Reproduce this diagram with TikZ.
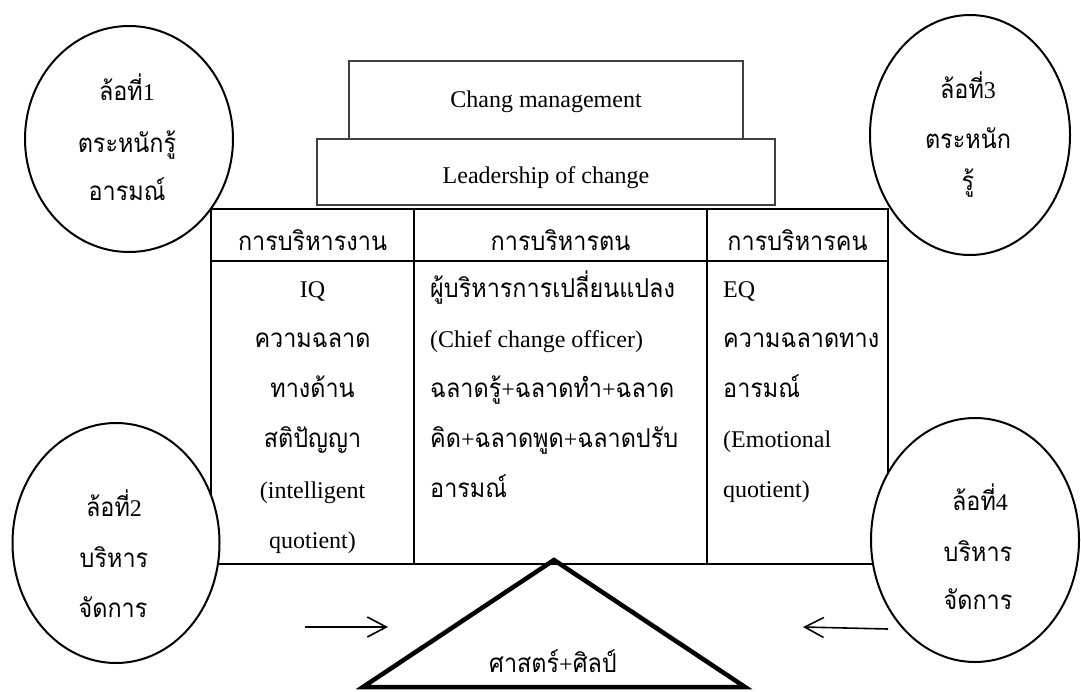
\documentclass[tikz,border=0pt]{standalone}
\usepackage{fontspec}
\setmainfont{Liberation Serif}
\newfontfamily\thaifont[Script=Thai,FakeStretch=0.9]{Loma}
\usetikzlibrary{shapes.geometric,arrows.meta}
\newcommand\thx[1]{{\thaifont\fontsize{26}{30}\selectfont #1}}
\tikzset{
  lat/.style={font=\fontsize{24}{28}\selectfont, inner sep=0pt},
  thtxt/.style={font=\thaifont\fontsize{26}{30}\selectfont, inner sep=0pt},
  wheel/.style={ellipse, draw=black, line width=2pt, fill=white, inner sep=0pt},
  tierbox/.style={rectangle, draw=black!75, line width=1.1pt, inner sep=0pt},
  tbl/.style={rectangle, draw=black, line width=1.6pt, inner sep=0pt},
  tline/.style={draw=black, line width=1.6pt},
  tri/.style={draw=black, line width=4.5pt, line join=miter},
  arr/.style={draw=black, line width=1.6pt, -{Straight Barb[length=19pt,width=20pt,line width=1.6pt]}}
}
\begin{document}
\begin{tikzpicture}[x=1pt,y=-1pt]
\useasboundingbox (0,0) rectangle (1081,691);
% tier boxes
\node[tierbox, minimum width=394pt, minimum height=78pt] (chang) at (546,100) {};
\node[tierbox, minimum width=458pt, minimum height=66pt] (lead) at (546,172) {};
\node[lat, anchor=base] (changtxt) at (546,107) {Chang management};
\node[lat, anchor=base] (leadtxt) at (546,183) {Leadership of change};
% table
\node[tbl, minimum width=677pt, minimum height=355pt] (table) at (549.5,386.5) {};
\draw[tline] (211,261) -- (888,261);
\draw[tline] (414,209) -- (414,564);
\draw[tline] (707,209) -- (707,564);
% headers
\node[thtxt, anchor=base] (h1) at (312.5,250) {การบริหารงาน};
\node[thtxt, anchor=base] (h2) at (560.5,250) {การบริหารตน};
\node[thtxt, anchor=base] (h3) at (797.5,250) {การบริหารคน};
% column 1
\node[lat, anchor=base] (c1a) at (312.5,297) {IQ};
\node[thtxt, anchor=base] (c1b) at (312.5,347) {ความฉลาด};
\node[thtxt, anchor=base] (c1c) at (312.5,397) {ทางด้าน};
\node[thtxt, anchor=base] (c1d) at (312.5,447) {สติปัญญา};
\node[lat, anchor=base] (c1e) at (312.5,498) {(intelligent};
\node[lat, anchor=base] (c1f) at (312.5,548) {quotient)};
% column 2
\node[thtxt, anchor=base west] (c2a) at (430,297) {ผู้บริหารการเปลี่ยนแปลง};
\node[lat, anchor=base west] (c2b) at (430,347) {(Chief change officer)};
\node[lat, anchor=base west] (c2c) at (430,397) {\thx{ฉลาดรู้}+\thx{ฉลาดทำ}+\thx{ฉลาด}};
\node[lat, anchor=base west] (c2d) at (430,447) {\thx{คิด}+\thx{ฉลาดพูด}+\thx{ฉลาดปรับ}};
\node[thtxt, anchor=base west] (c2e) at (430,497) {อารมณ์};
% column 3
\node[lat, anchor=base west] (c3a) at (723,297) {EQ};
\node[thtxt, anchor=base west] (c3b) at (723,347) {ความฉลาดทาง};
\node[thtxt, anchor=base west] (c3c) at (723,397) {อารมณ์};
\node[lat, anchor=base west] (c3d) at (723,447) {(Emotional};
\node[lat, anchor=base west] (c3e) at (723,497) {quotient)};
% triangle
\coordinate (tA) at (554,560);
\coordinate (tL) at (363,687);
\coordinate (tR) at (745,687);
\draw[tri] (tA) -- (tL) -- (tR) -- cycle;
\node[lat, anchor=base] (tritxt) at (553,672) {\thx{ศาสตร์}+\thx{ศิลป์}};
% arrows
\coordinate (laS) at (305,627);
\coordinate (laE) at (388,627);
\draw[arr] (laS) -- (laE);
\coordinate (raS) at (888,629);
\coordinate (raE) at (803,627);
\draw[arr] (raS) -- (raE);
% wheels
\node[wheel, minimum width=208pt, minimum height=226pt] (w1) at (129,139) {};
\node[wheel, minimum width=200pt, minimum height=240pt] (w3) at (970,135) {};
\node[wheel, minimum width=207pt, minimum height=240pt] (w2) at (116,543) {};
\node[wheel, minimum width=208pt, minimum height=244pt] (w4) at (975,540) {};
% wheel texts
\node[lat, anchor=base] (w1a) at (127,100) {\thx{ล้อที่}1};
\node[thtxt, anchor=base] (w1b) at (127,152) {ตระหนักรู้};
\node[thtxt, anchor=base] (w1c) at (127,200) {อารมณ์};
\node[lat, anchor=base] (w3a) at (968,98) {\thx{ล้อที่}3};
\node[thtxt, anchor=base] (w3b) at (968,148) {ตระหนัก};
\node[thtxt, anchor=base] (w3c) at (968,190) {รู้};
\node[lat, anchor=base] (w2a) at (114,516) {\thx{ล้อที่}2};
\node[thtxt, anchor=base] (w2b) at (114,567) {บริหาร};
\node[thtxt, anchor=base] (w2c) at (113,617) {จัดการ};
\node[lat, anchor=base] (w4a) at (980,510) {\thx{ล้อที่}4};
\node[thtxt, anchor=base] (w4b) at (978,561) {บริหาร};
\node[thtxt, anchor=base] (w4c) at (978,609) {จัดการ};
\end{tikzpicture}
\end{document}
